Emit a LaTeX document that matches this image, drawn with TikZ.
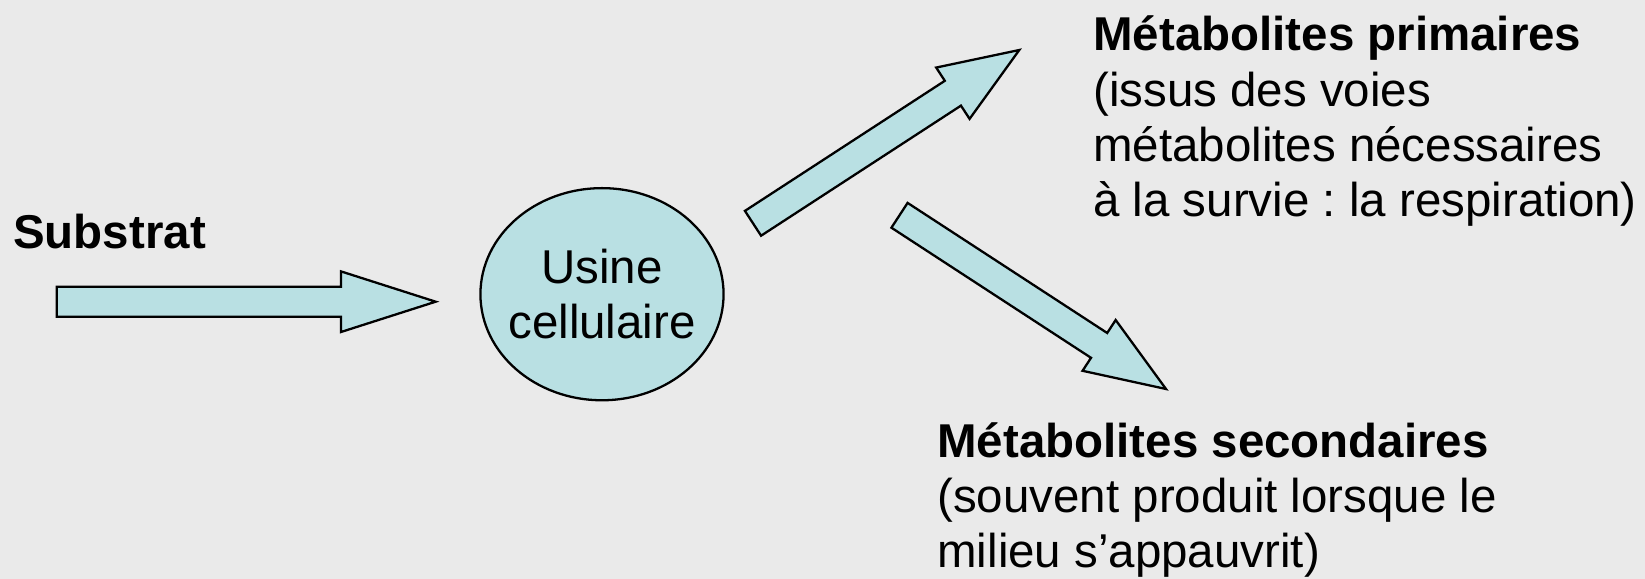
\documentclass[tikz,border=0pt]{standalone}
\usepackage{fontspec}
\setmainfont{Liberation Sans}
\usepackage{tikz}
\usepackage{xcolor}
\usetikzlibrary{positioning,shapes.geometric,calc}
\definecolor{slidebg}{RGB}{234,234,234}
\definecolor{cellfill}{RGB}{185,224,227}
\frenchspacing
% block arrow: tail, tip, shaft half width, head half width, head length
\newcommand{\blockarrow}[5]{%
  \coordinate (hb) at ($(#2)!#5!(#1)$);
  \draw[bigarrow] ($(#1)!#3!90:(#2)$) -- ($(hb)!#3!90:(#2)$) -- ($(hb)!#4!90:(#2)$)
    -- (#2) -- ($(hb)!#4!-90:(#2)$) -- ($(hb)!#3!-90:(#2)$) -- ($(#1)!#3!-90:(#2)$) -- cycle;}

\begin{document}
\begin{tikzpicture}[x=0.01cm, y=-0.01cm,
    every node/.style={font=\fontsize{13.5}{15.65}\selectfont, inner sep=0pt},
    bigarrow/.style={fill=cellfill, draw=black, line width=0.65pt, line join=miter},
    cell/.style={ellipse, fill=cellfill, draw=black, line width=0.65pt,
      minimum width=2.43cm, minimum height=2.12cm},
    label/.style={anchor=base west, align=left}]
    % Background
    \fill[slidebg] (0,0) rectangle (1645,579);
    \useasboundingbox (0,0) rectangle (1645,579);

    % Substrate in
    \node[label] (substrat) at (12.6,248.3) {\textbf{Substrat}};
    \coordinate (inTail) at (56.7,301.7);
    \coordinate (inTip) at (435.7,301.7);
    \blockarrow{inTail}{inTip}{0.15cm}{0.303cm}{0.947cm}

    % Cell factory
    \node[cell] (usine) at (602,294.2) {};
    \node[align=center] (usineText) at (usine.center) {Usine\\cellulaire};

    % Primary metabolites (base = last line)
    \coordinate (primTail) at (753,223.3);
    \coordinate (primTip) at (1019.3,50);
    \blockarrow{primTail}{primTip}{0.148cm}{0.306cm}{0.792cm}
    \node[label] (primaires) at (1092.6,216.1) {\textbf{Métabolites primaires}\\(issus des voies\\métabolites nécessaires\\à la survie : la respiration)};

    % Secondary metabolites
    \coordinate (secTail) at (899.5,215.3);
    \coordinate (secTip) at (1166,389);
    \blockarrow{secTail}{secTip}{0.148cm}{0.303cm}{0.798cm}
    \node[label] (secondaires) at (936.7,567.1) {\textbf{Métabolites secondaires}\\(souvent produit lorsque le\\milieu s’appauvrit)};
\end{tikzpicture}
\end{document}
